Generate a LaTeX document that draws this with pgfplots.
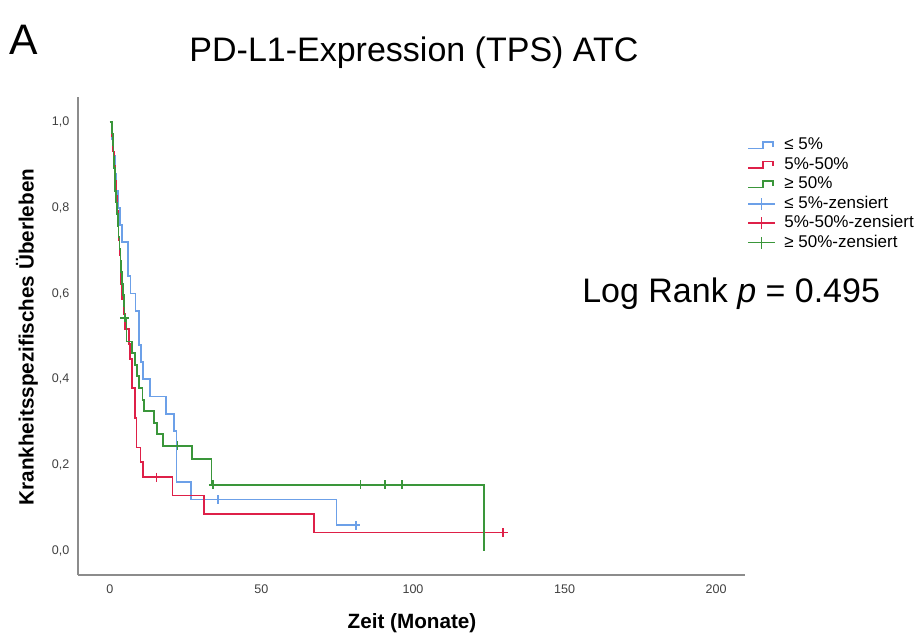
\documentclass[border=0pt]{standalone}
\usepackage{fontspec}
\setmainfont{Liberation Sans}
\usepackage{pgfplots}
\usepackage{pgfplotstable}
\pgfplotsset{compat=1.18}

\definecolor{cblue}{RGB}{108,160,232}
\definecolor{cred}{RGB}{222,32,72}
\definecolor{cgreen}{RGB}{58,150,58}
\definecolor{caxis}{RGB}{140,140,140}

% Kaplan-Meier steps: time (months), survival after the event
\pgfplotstableread{
t s
0 1
0.8 0.96
1.2 0.92
1.6 0.88
2.0 0.84
2.8 0.80
3.4 0.76
3.9 0.72
6.0 0.68
6.0 0.64
6.8 0.60
8.5 0.56
9.7 0.52
9.7 0.48
10.4 0.44
11.0 0.40
13.2 0.36
18.5 0.32
21.1 0.28
22.0 0.24
22.0 0.20
22.0 0.16
26.7 0.12
74.8 0.06
81.1 0.06
}\tblblue

\pgfplotstableread{
t s
0 1
0.8 0.966
1.1 0.931
1.4 0.897
1.7 0.862
2.0 0.828
2.3 0.793
2.6 0.759
2.9 0.724
3.2 0.690
3.5 0.655
3.8 0.621
4.1 0.586
4.5 0.552
5.0 0.517
6.3 0.483
6.6 0.448
7.2 0.414
7.2 0.379
8.25 0.345
8.25 0.310
8.8 0.276
8.8 0.241
10.1 0.207
11.0 0.172
20.7 0.129
31.0 0.086
67.3 0.043
129.8 0.043
}\tblred

\pgfplotstableread{
t s
0 1
0.8 0.973
1.0 0.946
1.2 0.919
1.4 0.892
1.6 0.866
1.8 0.839
2.0 0.812
2.3 0.785
2.6 0.758
2.9 0.731
3.2 0.704
3.5 0.677
3.8 0.650
4.1 0.623
4.4 0.597
4.6 0.570
4.8 0.543
5.5 0.516
5.5 0.488
7.2 0.461
8.25 0.434
9.0 0.407
9.7 0.380
10.8 0.352
11.2 0.326
14.5 0.298
15.6 0.272
17.6 0.245
27.2 0.214
33.5 0.184
33.5 0.154
123.5 0
}\tblgreen

% censored cases
\pgfplotstableread{
t s
35.7 0.12
81.1 0.06
}\cenblue
\pgfplotstableread{
t s
15.4 0.172
129.8 0.043
}\cenred
\pgfplotstableread{
t s
4.95 0.543
22.3 0.245
34.1 0.154
82.7 0.154
90.8 0.154
96.3 0.154
}\cengreen

\pgfplotsset{
  kmline/.style={const plot, color=#1, line width=1.3pt,
    legend image code/.code={\draw[#1, line width=1.3pt]
      (0pt,-2.5pt) -- (11.25pt,-2.5pt) -- (11.25pt,2.5pt) -- (18.75pt,2.5pt) -- (18.75pt,-1.25pt);}},
  censor/.style={only marks, color=#1, mark=+, mark size=3.3pt,
    mark options={line width=1.3pt},
    legend image code/.code={\draw[#1, line width=1.3pt] (0pt,0pt) -- (20pt,0pt);
      \draw[#1, line width=1.3pt] (10pt,-4.5pt) -- (10pt,4.5pt);}},
}

\begin{document}
\begin{tikzpicture}
\useasboundingbox (-58.5pt,-45pt) rectangle (627.75pt,431.25pt);

\begin{scope}[x=0.75pt, y=-0.75pt, shift={(-58.5pt,431.25pt)}]
\node[inner sep=0pt, anchor=base west, font=\fontsize{32}{36}\selectfont] at (9,55) {A};
\node[inner sep=0pt, anchor=base, font=\fontsize{25.5}{30}\selectfont] at (414,62) {PD-L1-Expression (TPS) ATC};
\node[inner sep=0pt, anchor=base west, font=\fontsize{25.5}{30}\selectfont] at (582,303) {Log Rank \textit{p} = 0.495};
\node[inner sep=0pt, rotate=90, font=\bfseries\fontsize{15.5}{18}\selectfont] at (27,337) {Krankheitsspezifisches Überleben};
\node[inner sep=0pt, anchor=base, font=\bfseries\fontsize{15.5}{18}\selectfont] at (412,629) {Zeit (Monate)};
\end{scope}

\begin{axis}[
    at={(0pt,0pt)}, anchor=south west,
    scale only axis,
    width=500.25pt, height=358.5pt,
    xmin=-10.5, xmax=209.5,
    ymin=-0.056, ymax=1.058,
    axis x line*=bottom, axis y line*=left,
    axis line style={draw=caxis, line width=1.1pt, -},
    xtick={0,50,100,150,200},
    ytick={0,0.2,0.4,0.6,0.8,1},
    major tick length=0pt,
    /pgf/number format/assume math mode=true,
    tick label style={font=\fontsize{9.4}{11}\selectfont, text=black!75},
    yticklabel style={/pgf/number format/fixed, /pgf/number format/fixed zerofill,
      /pgf/number format/precision=1, /pgf/number format/use comma, xshift=-3pt},
    xticklabel style={yshift=-4pt},
    legend cell align=left,
    legend style={at={(1.003,0.92)}, anchor=north west, draw=none, fill=none,
      inner sep=0pt, row sep=0pt, column sep=3pt,
      font=\fontsize{12.75}{14}\selectfont,
      nodes={inner xsep=3.5pt, inner ysep=1.5pt, text height=9.2pt, text depth=2.4pt}},
]
\addplot[kmline=cblue] table[x=t, y=s] {\tblblue};
\addlegendentry{≤ 5\%}
\addplot[kmline=cred] table[x=t, y=s] {\tblred};
\addlegendentry{5\%-50\%}
\addplot[kmline=cgreen] table[x=t, y=s] {\tblgreen};
\addlegendentry{≥ 50\%}
\addplot[censor=cblue] table[x=t, y=s] {\cenblue};
\addlegendentry{≤ 5\%-zensiert}
\addplot[censor=cred] table[x=t, y=s] {\cenred};
\addlegendentry{5\%-50\%-zensiert}
\addplot[censor=cgreen] table[x=t, y=s] {\cengreen};
\addlegendentry{≥ 50\%-zensiert}
\end{axis}
\end{tikzpicture}
\end{document}
